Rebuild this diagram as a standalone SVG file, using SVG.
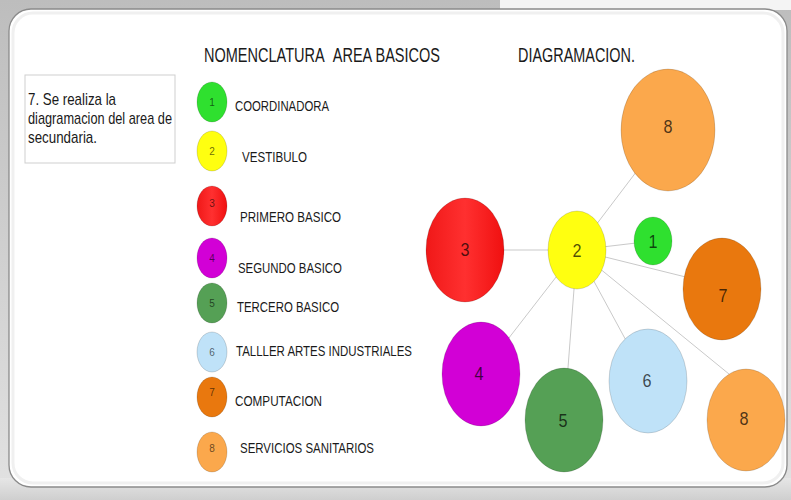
<svg xmlns="http://www.w3.org/2000/svg" width="791" height="500" viewBox="0 0 791 500">
<defs>
<linearGradient id="bg" x1="0" y1="0" x2="0" y2="1">
<stop offset="0" stop-color="#bdbdbd"/>
<stop offset="1" stop-color="#e2e2e2"/>
</linearGradient>
<linearGradient id="bottom" x1="0" y1="0" x2="0" y2="1">
<stop offset="0" stop-color="#e6e6e6"/>
<stop offset="1" stop-color="#cfcfcf"/>
</linearGradient>
<linearGradient id="redg" x1="0" y1="0" x2="1" y2="0">
<stop offset="0" stop-color="#f01818"/>
<stop offset="0.5" stop-color="#ff3030"/>
<stop offset="1" stop-color="#f01010"/>
</linearGradient>
<style>
text{font-family:"Liberation Sans",Arial,sans-serif;fill:#1a1a1a}
.hdr{font-size:20px}
.lbl{font-size:15px}
.box{font-size:17px}
.sn{font-size:10px;text-anchor:middle;fill:#000;fill-opacity:0.6}
.bn{font-size:18px;text-anchor:middle;fill:#000;fill-opacity:0.7}
.c{stroke:#000;stroke-opacity:0.15;stroke-width:1}
.g1{fill:#2fe02f}.g2{fill:#ffff10}.g3{fill:url(#redg)}.g4{fill:#d200d6}
.g5{fill:#55a055}.g6{fill:#bfe2f8}.g7{fill:#e9780e}.g8{fill:#fba84c}
#connectors line{stroke:#c9c9c9;stroke-width:1}
</style>
</defs>
<rect x="0" y="0" width="791" height="500" fill="url(#bg)"/>
<rect x="500" y="0" width="291" height="10" fill="#f4f4f4"/>
<rect x="0" y="478" width="791" height="22" fill="url(#bottom)"/>
<rect x="9" y="9" width="778" height="478" rx="22" ry="22" fill="#ffffff" stroke="#8a8a8a" stroke-width="1.3"/>
<rect x="13" y="13" width="770" height="470" rx="20" ry="20" fill="none" stroke="#f0f0f0" stroke-width="3"/>

<g id="titles">
<text class="hdr" x="204" y="62" textLength="236" lengthAdjust="spacingAndGlyphs">NOMENCLATURA&#160;&#160;AREA BASICOS</text>
<text class="hdr" x="518" y="62" textLength="117" lengthAdjust="spacingAndGlyphs">DIAGRAMACION.</text>
</g>

<g id="note">
<rect x="25" y="75" width="150" height="88" fill="#ffffff" stroke="#cfcfcf" stroke-width="1"/>
<text class="box" x="28" y="105" textLength="88" lengthAdjust="spacingAndGlyphs">7. Se realiza la</text>
<text class="box" x="28" y="124" textLength="144" lengthAdjust="spacingAndGlyphs">diagramacion del area de</text>
<text class="box" x="28" y="143" textLength="69" lengthAdjust="spacingAndGlyphs">secundaria.</text>
</g>

<g id="legend">
<g id="leg1"><ellipse class="c g1" cx="212" cy="102" rx="15" ry="20"/><text class="sn" x="212" y="106">1</text><text class="lbl" x="235" y="111" textLength="94" lengthAdjust="spacingAndGlyphs">COORDINADORA</text></g>
<g id="leg2"><ellipse class="c g2" cx="212" cy="151" rx="15" ry="20"/><text class="sn" x="212" y="155">2</text><text class="lbl" x="242" y="162" textLength="65" lengthAdjust="spacingAndGlyphs">VESTIBULO</text></g>
<g id="leg3"><ellipse class="c g3" cx="212" cy="206" rx="15" ry="20"/><text class="sn" x="212" y="207">3</text><text class="lbl" x="240" y="222" textLength="101" lengthAdjust="spacingAndGlyphs">PRIMERO BASICO</text></g>
<g id="leg4"><ellipse class="c g4" cx="212" cy="258" rx="15" ry="20"/><text class="sn" x="212" y="262">4</text><text class="lbl" x="238" y="273" textLength="104" lengthAdjust="spacingAndGlyphs">SEGUNDO BASICO</text></g>
<g id="leg5"><ellipse class="c g5" cx="212" cy="303" rx="15" ry="20"/><text class="sn" x="212" y="307">5</text><text class="lbl" x="237" y="312" textLength="102" lengthAdjust="spacingAndGlyphs">TERCERO BASICO</text></g>
<g id="leg6"><ellipse class="c g6" cx="212" cy="352" rx="15" ry="20"/><text class="sn" x="212" y="356">6</text><text class="lbl" x="236" y="356" textLength="176" lengthAdjust="spacingAndGlyphs">TALLLER ARTES INDUSTRIALES</text></g>
<g id="leg7"><ellipse class="c g7" cx="212" cy="397" rx="15" ry="20"/><text class="sn" x="212" y="396">7</text><text class="lbl" x="235" y="406" textLength="87" lengthAdjust="spacingAndGlyphs">COMPUTACION</text></g>
<g id="leg8"><ellipse class="c g8" cx="212" cy="452" rx="15" ry="20"/><text class="sn" x="212" y="452">8</text><text class="lbl" x="240" y="453" textLength="134" lengthAdjust="spacingAndGlyphs">SERVICIOS SANITARIOS</text></g>
</g>

<g id="connectors">
<line x1="577" y1="250" x2="465" y2="250"/>
<line x1="577" y1="250" x2="668" y2="130"/>
<line x1="577" y1="250" x2="653" y2="241"/>
<line x1="577" y1="250" x2="722" y2="286"/>
<line x1="577" y1="250" x2="481" y2="374"/>
<line x1="577" y1="250" x2="564" y2="420"/>
<line x1="577" y1="250" x2="648" y2="381"/>
<line x1="577" y1="250" x2="740" y2="383"/>
</g>

<g id="node3"><ellipse class="c g3" cx="465" cy="250" rx="39" ry="52"/><text class="bn" x="465" y="256" textLength="9" lengthAdjust="spacingAndGlyphs">3</text></g>
<g id="node2"><ellipse class="c g2" cx="577" cy="250" rx="29" ry="39" stroke="#c8c000"/><text class="bn" x="577" y="257" textLength="9" lengthAdjust="spacingAndGlyphs">2</text></g>
<g id="node1"><ellipse class="c g1" cx="653" cy="241" rx="19" ry="24"/><text class="bn" x="653" y="248" textLength="9" lengthAdjust="spacingAndGlyphs">1</text></g>
<g id="node8a"><ellipse class="c g8" cx="668" cy="130" rx="47" ry="61"/><text class="bn" x="668" y="133" textLength="9" lengthAdjust="spacingAndGlyphs">8</text></g>
<g id="node7"><ellipse class="c g7" cx="722" cy="289" rx="39" ry="51"/><text class="bn" x="723" y="302" textLength="9" lengthAdjust="spacingAndGlyphs">7</text></g>
<g id="node4"><ellipse class="c g4" cx="481" cy="374" rx="39" ry="52"/><text class="bn" x="479" y="380" textLength="9" lengthAdjust="spacingAndGlyphs">4</text></g>
<g id="node5"><ellipse class="c g5" cx="564" cy="420" rx="39" ry="52"/><text class="bn" x="563" y="427" textLength="9" lengthAdjust="spacingAndGlyphs">5</text></g>
<g id="node6"><ellipse class="c g6" cx="648" cy="381" rx="39" ry="52"/><text class="bn" x="647" y="387" textLength="9" lengthAdjust="spacingAndGlyphs">6</text></g>
<g id="node8b"><ellipse class="c g8" cx="746" cy="420" rx="39" ry="51"/><text class="bn" x="744" y="425" textLength="9" lengthAdjust="spacingAndGlyphs">8</text></g>
</svg>
